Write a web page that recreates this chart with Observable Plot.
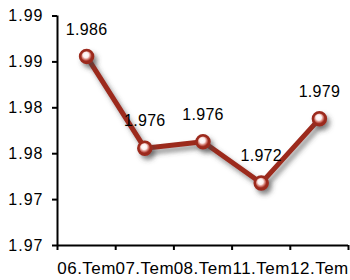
<!DOCTYPE html>
<html>
<head>
<meta charset="utf-8">
<script src="https://cdn.jsdelivr.net/npm/d3@7"></script>
<script src="https://cdn.jsdelivr.net/npm/@observablehq/plot@0.6"></script>
<style>
  html, body { margin: 0; padding: 0; background: #fff; }
  #chart svg g[aria-label="y-axis tick label"] text { letter-spacing: 1px; }
  #chart svg g[aria-label="x-axis tick label"] text { letter-spacing: 0.5px; }
  #chart svg g[aria-label="text"] text { letter-spacing: 0.3px; }
</style>
</head>
<body>
<div id="chart"></div>
<script>
const categories = ["06.Tem", "07.Tem", "08.Tem", "11.Tem", "12.Tem"];
const values = [1.9856, 1.9756, 1.9763, 1.9718, 1.9788];
const yTicks = [1.965, 1.970, 1.975, 1.980, 1.985, 1.990];
const yTickLabels = ["1.97", "1.97", "1.98", "1.98", "1.99", "1.99"];

const data = categories.map((c, i) => ({i, c, v: values[i]}));
const idx = categories.map((c, i) => i);
const bounds = [...idx.map(i => i - 0.5), categories.length - 0.5];

const lineColor = "#9c2a1e";

const chart = Plot.plot({
  width: 350,
  height: 280,
  marginLeft: 57,
  marginRight: 2,
  marginTop: 15.5,
  marginBottom: 35,
  style: {fontFamily: "'Liberation Sans', Arial, sans-serif", background: "#fff", color: "#000", overflow: "visible"},
  x: {type: "linear", domain: [bounds[0], bounds[bounds.length - 1]]},
  y: {domain: [yTicks[0], yTicks[yTicks.length - 1]]},
  marks: [
    Plot.axisY(yTicks, {tickSize: 5, tickPadding: 9, strokeWidth: 2, fontSize: 16, label: null,
      tickFormat: d => yTickLabels[yTicks.indexOf(d)]}),
    Plot.axisX(bounds, {tickSize: 5, strokeWidth: 2, tickFormat: () => "", label: null}),
    Plot.axisX(idx, {tickSize: 0, tickPadding: 16, fontSize: 17, label: null,
      tickFormat: i => categories[i]}),
    Plot.ruleX([bounds[0]], {stroke: "#000", strokeWidth: 2}),
    Plot.ruleY([yTicks[0]], {stroke: "#000", strokeWidth: 2}),
    Plot.line(data, {x: "i", y: "v", stroke: lineColor, strokeWidth: 5}),
    Plot.dot(data, {x: "i", y: "v", r: 6.5, fill: "url(#mk)", stroke: lineColor, strokeWidth: 2.5}),
    Plot.text(data, {x: "i", y: "v", text: d => d.v.toFixed(3), dy: -27, fontSize: 16, fill: "#000"})
  ]
});

document.getElementById("chart").appendChild(chart);

const svg = d3.select(chart);
const defs = svg.insert("defs", ":first-child");
const f = defs.append("filter").attr("id", "sh").attr("x", "-20%").attr("y", "-20%").attr("width", "150%").attr("height", "150%");
f.append("feDropShadow").attr("dx", 3).attr("dy", 4).attr("stdDeviation", 2.5)
  .attr("flood-color", "#444").attr("flood-opacity", 0.6);
const g = defs.append("radialGradient").attr("id", "mk").attr("cx", "45%").attr("cy", "40%").attr("r", "60%");
[["0%", "#ffffff"], ["35%", "#fbeeee"], ["55%", "#d98a80"], ["75%", "#a8352a"], ["100%", "#7e1f15"]]
  .forEach(([o, c]) => g.append("stop").attr("offset", o).attr("stop-color", c));
svg.selectAll('g[aria-label="line"], g[aria-label="dot"]').attr("filter", "url(#sh)");
</script>
</body>
</html>
